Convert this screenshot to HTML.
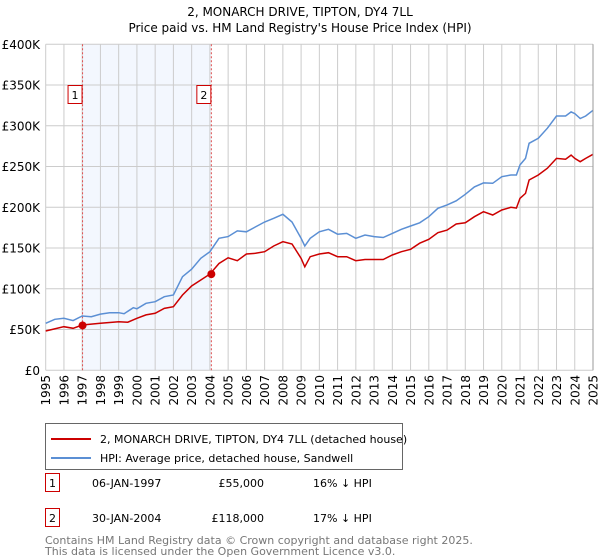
<!DOCTYPE html>
<html><head><meta charset="utf-8">
<style>
body{margin:0;background:#fff;width:600px;height:560px;overflow:hidden;font-family:"DejaVu Sans","Liberation Sans",sans-serif;}
svg{display:block}
</style></head>
<body>
<svg id="chart" width="600" height="560" font-family="DejaVu Sans, Liberation Sans, sans-serif">
<text x="300" y="16" text-anchor="middle" font-size="12" fill="#000">2, MONARCH DRIVE, TIPTON, DY4 7LL</text>
<text x="300" y="32" text-anchor="middle" font-size="12" fill="#000">Price paid vs. HM Land Registry's House Price Index (HPI)</text>
<g id="grid"></g>
<g id="marks"></g>
<g id="axes"></g>
<g>
<rect x="45.5" y="423.5" width="357" height="46" fill="#fff" stroke="#666"/>
<line x1="51" y1="439" x2="91" y2="439" stroke="#cc0000" stroke-width="2"/>
<text x="100" y="443" font-size="11">2, MONARCH DRIVE, TIPTON, DY4 7LL (detached house)</text>
<line x1="51" y1="458" x2="91" y2="458" stroke="#5b8fd4" stroke-width="2"/>
<text x="100" y="462" font-size="11">HPI: Average price, detached house, Sandwell</text>
</g>
<g font-size="11">
<rect x="45.5" y="473.5" width="14" height="18" fill="#fff" stroke="#cc0000"/>
<text x="52.5" y="487" text-anchor="middle">1</text>
<text x="92" y="487">06-JAN-1997</text>
<text x="264" y="487" text-anchor="end">£55,000</text>
<text x="313" y="487">16% ↓ HPI</text>
<rect x="45.5" y="508.5" width="14" height="18" fill="#fff" stroke="#cc0000"/>
<text x="52.5" y="522" text-anchor="middle">2</text>
<text x="92" y="522">30-JAN-2004</text>
<text x="264" y="522" text-anchor="end">£118,000</text>
<text x="313" y="522">17% ↓ HPI</text>
</g>
<text x="45" y="544" font-size="11" fill="#777">Contains HM Land Registry data © Crown copyright and database right 2025.</text>
<text x="45" y="555" font-size="11" fill="#777">This data is licensed under the Open Government Licence v3.0.</text>
</svg>
<script>
const yTicks=[0,50000,100000,150000,200000,250000,300000,350000,400000];
const yTickLabels=["£0","£50K","£100K","£150K","£200K","£250K","£300K","£350K","£400K"];
const years=[1995,1996,1997,1998,1999,2000,2001,2002,2003,2004,2005,2006,2007,2008,2009,2010,2011,2012,2013,2014,2015,2016,2017,2018,2019,2020,2021,2022,2023,2024,2025];
const hpiDates=[1995,1995.5,1996,1996.5,1997,1997.5,1998,1998.5,1999,1999.3,1999.8,2000,2000.5,2001,2001.5,2002,2002.5,2003,2003.5,2004,2004.5,2005,2005.5,2006,2006.5,2007,2007.5,2008,2008.5,2009,2009.2,2009.5,2010,2010.5,2011,2011.5,2012,2012.5,2013,2013.5,2014,2014.5,2015,2015.5,2016,2016.5,2017,2017.5,2018,2018.5,2019,2019.5,2020,2020.5,2020.8,2021,2021.3,2021.5,2022,2022.5,2023,2023.5,2023.8,2024,2024.3,2024.6,2025];
const hpiValues=[57.7,62.6,63.8,61,66.6,65.8,69,70.7,70.7,69.5,76.8,75.5,82.2,84.2,90.3,92.4,114.9,124,137.4,145.5,162,164,171,170,176,182,186.5,191.4,182,162,152.5,162,170,173,167,168,162,166,164,163,168,173,177,181,188.5,198.8,203,208,216,225,230,229.5,237.5,239.6,239.6,252,260,278.5,284.7,297,312,312,317,315,309,312,319];
const ppDates=[1995,1996,1996.5,1997,1998,1999,1999.5,2000,2000.5,2001,2001.5,2002,2002.5,2003,2003.5,2004,2004.5,2005,2005.5,2006,2006.5,2007,2007.5,2008,2008.5,2009,2009.2,2009.5,2010,2010.5,2011,2011.5,2012,2012.5,2013,2013.5,2014,2014.5,2015,2015.5,2016,2016.5,2017,2017.5,2018,2018.5,2019,2019.5,2020,2020.5,2020.8,2021,2021.3,2021.5,2022,2022.5,2023,2023.5,2023.8,2024,2024.3,2024.6,2025];
const ppValues=[48.2,53.5,51.5,55.6,57.7,59.6,59,63.8,68,70,76,78,92.4,103.4,110.8,118,131,138,134.5,142.7,143.5,145.5,152.5,157.8,155,137.4,127,139.4,142.7,144.3,139.4,139.4,134.5,136,136,136,141.5,145.5,148.5,156,160.7,168.8,172,179.5,181,188.5,194.6,190.5,196.7,200,199,211,217,233.5,239.6,248,260,259,264,260,256,260,265];
const saleDates=[1997.02,2004.08];
const salePrices=[55000,118000];
const saleLabels=["1","2"];

const NS="http://www.w3.org/2000/svg";
const X0=45.7,X1=593,Y0=370.3,Y1=44.3;
const xs=v=>X0+(v-1995)/(2025-1995)*(X1-X0);
const ys=v=>Y0-v/400000*(Y0-Y1);
function mk(tag,attrs,parent){const e=document.createElementNS(NS,tag);for(const k in attrs)e.setAttribute(k,attrs[k]);parent.appendChild(e);return e;}
const grid=document.getElementById('grid'),marks=document.getElementById('marks'),axes=document.getElementById('axes');
let band=mk('rect',{x:xs(saleDates[0]),y:Y1,width:xs(saleDates[1])-xs(saleDates[0]),height:Y0-Y1,fill:'#eef3fd',opacity:0.7},grid);


years.forEach(y=>{
  const l=mk('line',{x1:xs(y),x2:xs(y),y1:Y1,y2:Y0,stroke:'#ccc','stroke-width':1},grid);
  
  
  const t=mk('text',{x:0,y:0,'font-size':12,'text-anchor':'end',transform:`translate(${xs(y)+4.5},375) rotate(-90)`},axes);
  t.textContent=y;
  
  
});
yTicks.forEach((v,i)=>{
  const l=mk('line',{x1:X0,x2:X1,y1:ys(v),y2:ys(v),stroke:'#ccc','stroke-width':1},grid);
  
  
  const t=mk('text',{x:40,y:ys(v)+4.5,'font-size':12,'text-anchor':'end'},axes);
  t.textContent=yTickLabels[i];
  
  
});
saleDates.forEach((d,i)=>{
  const l=mk('line',{x1:xs(d),x2:xs(d),y1:Y1,y2:Y0,stroke:'#e05050','stroke-width':1,'stroke-dasharray':'2,2'},marks);
  
  
  const b=mk('rect',{x:xs(d)-14.5,y:85.5,width:14,height:18,fill:'#fff',stroke:'#cc0000'},marks);
  
  
  const t=mk('text',{x:xs(d)-7.5,y:99,'font-size':11,'text-anchor':'middle'},marks);
  t.textContent=saleLabels[i];
  
  
});
const path=(ds,vs)=>ds.map((d,i)=>(i?'L':'M')+xs(d).toFixed(1)+','+ys(vs[i]*1000).toFixed(1)).join('');
const hp=mk('path',{d:path(hpiDates,hpiValues),fill:'none',stroke:'#5b8fd4','stroke-width':1.5},marks);


const pp=mk('path',{d:path(ppDates,ppValues),fill:'none',stroke:'#cc0000','stroke-width':1.5},marks);


saleDates.forEach((d,i)=>{
  const c=mk('circle',{cx:xs(d),cy:ys(salePrices[i]),r:4,fill:'#cc0000'},marks);
  
  
});
const ax=mk('line',{x1:X1,x2:X1,y1:Y1,y2:Y0,stroke:'#999','stroke-width':1},axes);


</script>
</body></html>
